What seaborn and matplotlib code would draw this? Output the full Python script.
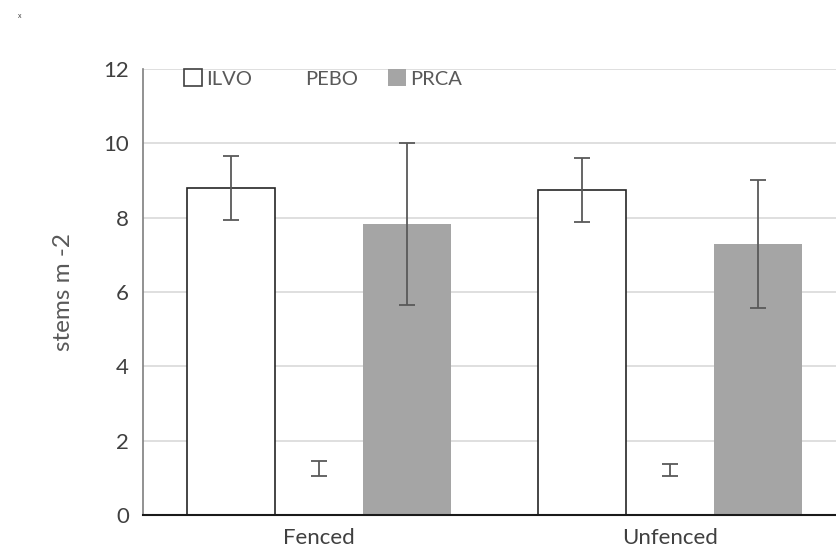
import matplotlib
matplotlib.use("Agg")
import matplotlib.pyplot as plt
import matplotlib.patches as mpatches
import seaborn as sns
import pandas as pd

categories = ["Fenced", "Unfenced"]
series = ["ILVO", "PEBO", "PRCA"]
ilvo = [8.80, 8.74]
pebo = [1.25, 1.21]
prca = [7.83, 7.29]
ilvo_err = [0.87, 0.86]
pebo_err = [0.20, 0.16]
prca_err = [2.18, 1.72]
yticks = [0, 2, 4, 6, 8, 10, 12]

values = {"ILVO": ilvo, "PEBO": pebo, "PRCA": prca}
errors = {"ILVO": ilvo_err, "PEBO": pebo_err, "PRCA": prca_err}
rows = []
for s in series:
    for c, v in zip(categories, values[s]):
        rows.append({"cat": c, "series": s, "value": v})
df = pd.DataFrame(rows)

sns.set_style("white")
plt.rcParams["font.family"] = ["Lato", "DejaVu Sans"]

fig = plt.figure(figsize=(8.37, 5.56), dpi=100)
ax = fig.add_axes([0.1708, 0.0737, 0.8393, 0.802])

palette = {"ILVO": "white", "PEBO": "white", "PRCA": "#a5a5a5"}
sns.barplot(data=df, x="cat", y="value", hue="series", order=categories,
            hue_order=series, palette=palette, width=0.752, gap=0,
            errorbar=None, ax=ax, legend=False, saturation=1)

edge = {"ILVO": "#262626", "PEBO": "none", "PRCA": "none"}
for s, cont in zip(series, ax.containers):
    for bar, e in zip(cont, errors[s]):
        bar.set_edgecolor(edge[s])
        bar.set_linewidth(1.2)
        if s == "PEBO":
            bar.set_facecolor("none")
        cx = bar.get_x() + bar.get_width() / 2
        ax.errorbar(cx, bar.get_height(), yerr=e, fmt="none",
                    ecolor="#595959", elinewidth=1.3, capsize=6, capthick=1.3,
                    zorder=5)

ax.set_xlim(-0.5, 1.5)
ax.set_ylim(0, 12)
ax.set_yticks(yticks)
ax.yaxis.grid(True, color="#d9d9d9", linewidth=1.2)
ax.set_axisbelow(True)
for sp in ["top", "right"]:
    ax.spines[sp].set_visible(False)
ax.spines["left"].set_color("#7f7f7f")
ax.spines["left"].set_linewidth(1.2)
ax.spines["bottom"].set_color("#1a1a1a")
ax.spines["bottom"].set_linewidth(1.5)
ax.tick_params(axis="both", length=0, colors="#404040")
ax.tick_params(axis="y", pad=10, labelsize=16)
ax.tick_params(axis="x", pad=9, labelsize=16)
ax.set_xlabel("")
ax.set_ylabel("stems m -2", fontsize=17.5, color="#595959", labelpad=21)

handles = [
    mpatches.Patch(facecolor="white", edgecolor="#404040", linewidth=1.2, label="ILVO"),
    mpatches.Patch(facecolor="none", edgecolor="none", label="PEBO"),
    mpatches.Patch(facecolor="#a5a5a5", edgecolor="none", label="PRCA"),
]
leg = ax.legend(handles=handles, loc="upper left", bbox_to_anchor=(0.033, 1.04),
                ncol=3, frameon=False, fontsize=14.5, handlelength=0.9,
                handleheight=0.9, handletextpad=0.2, columnspacing=1.5)
for t in leg.get_texts():
    t.set_color("#595959")

fig.text(0.022, 0.967, "x", fontsize=5, color="#404040")

fig.savefig("out.png", dpi=100)
